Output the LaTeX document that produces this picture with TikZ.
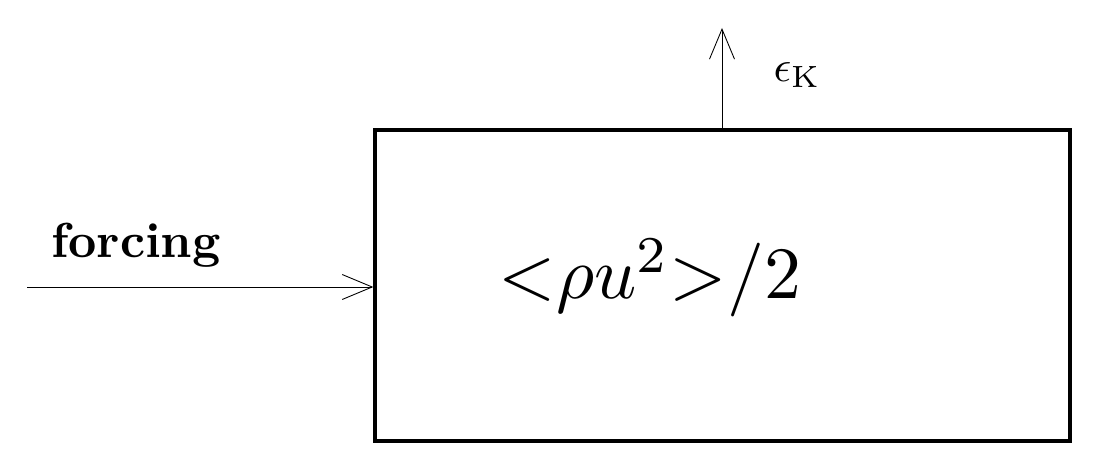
\documentclass[tikz,border=0pt]{standalone}
\usetikzlibrary{arrows.meta}
\begin{document}
\begin{tikzpicture}[x=0.02cm,y=-0.02cm,
  arr/.style={-{Straight Barb[length=0.6cm,width=0.5cm]},line width=0.5pt},
  lbl/.style={inner sep=0pt}]
\useasboundingbox (0,0) rectangle (1096,472);
\node[draw,line width=2pt,minimum width=13.9cm,minimum height=6.22cm,inner sep=0pt] (box) at (722.5,285.5) {};
\coordinate (in) at (27,287);
\coordinate (out) at (722,28);
\draw[arr] (in) -- (box.west |- in);
\draw[arr] (box.north -| out) -- (out);
\node[lbl,scale=2.8] (f) at (136,245) {\textbf{forcing}};
\node[lbl,scale=4.2] (e) at (650,278) {$\mathord{<}\rho u^2\mathord{>}/2$};
\node[lbl,scale=2.5] (k) at (797,75) {$\epsilon_{\mathrm{K}}$};
\end{tikzpicture}
\end{document}
